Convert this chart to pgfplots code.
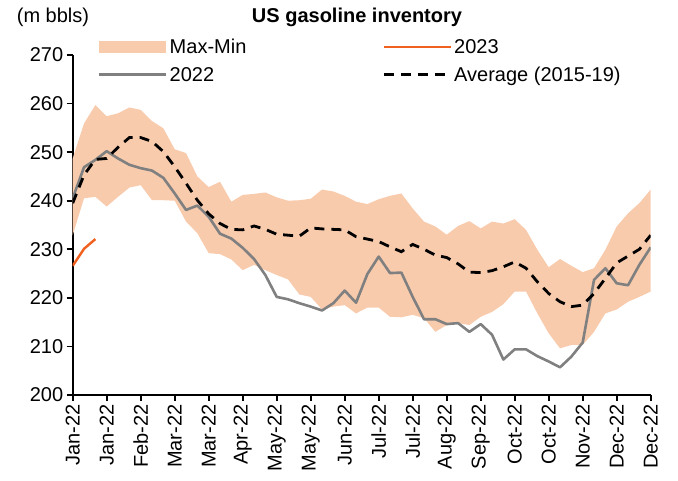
\documentclass[border=0pt]{standalone}
\usepackage{fontspec}
\setmainfont{Liberation Sans}
\usepackage{pgfplots}
\usepackage{pgfplotstable}
\pgfplotsset{compat=1.18}
\usepgfplotslibrary{fillbetween}
\definecolor{BandFill}{RGB}{248,203,173}
\definecolor{Orange23}{RGB}{240,96,30}
\definecolor{Gray22}{RGB}{128,128,128}

% weekly data, week 0 = first week of Jan
\pgfplotstableread{
w  max    min    avg    y22
0  248.7  232.9  239.5  240.5
1  255.9  240.5  245.3  246.9
2  259.7  240.8  248.5  248.4
3  257.4  238.8  248.7  250.2
4  258.0  240.8  251.0  248.7
5  259.2  242.7  253.0  247.4
6  258.7  243.2  253.0  246.7
7  256.4  240.1  252.2  246.2
8  254.9  240.1  250.1  244.7
9  250.6  240.0  247.0  241.5
10 249.8  235.7  243.6  238.1
11 245.0  233.3  240.1  239.0
12 242.8  229.2  237.3  236.7
13 243.9  229.0  235.3  233.2
14 239.8  227.9  234.1  232.2
15 241.2  225.7  234.0  230.3
16 241.4  226.8  234.8  228.0
17 241.7  225.7  234.1  224.7
18 240.7  224.7  233.1  220.2
19 240.0  223.8  232.9  219.7
20 240.1  220.7  232.7  218.9
21 240.4  220.2  234.4  218.2
22 242.3  217.6  234.2  217.4
23 241.9  218.2  234.1  218.9
24 241.0  218.5  234.0  221.5
25 239.8  216.8  232.6  219.0
26 239.3  218.0  232.1  224.9
27 240.3  218.0  231.6  228.5
28 241.0  216.1  230.5  225.1
29 241.5  216.0  229.5  225.2
30 238.4  216.5  231.0  220.2
31 235.7  215.8  230.0  215.6
32 234.7  213.0  228.8  215.6
33 233.0  214.4  228.3  214.6
34 234.8  214.8  227.0  214.8
35 235.8  214.4  225.3  213.0
36 234.3  216.1  225.2  214.6
37 235.7  217.1  225.6  212.4
38 235.3  218.7  226.4  207.3
39 236.2  221.3  227.4  209.4
40 234.0  221.3  226.1  209.4
41 229.9  216.8  223.3  208.0
42 226.3  212.7  220.9  206.9
43 228.0  209.6  219.2  205.7
44 226.6  210.3  218.2  207.9
45 225.3  210.3  218.5  210.8
46 226.1  213.0  220.9  223.7
47 229.9  216.8  224.0  226.1
48 234.7  217.6  227.2  223.0
49 237.4  219.2  228.6  222.6
50 239.5  220.2  230.0  226.8
51 242.3  221.3  232.9  230.4
}\data

\begin{document}
\begin{tikzpicture}[font=\fontsize{20bp}{24bp}\selectfont]
\begin{axis}[
  scale only axis,
  width=578bp, height=340bp,
  xmin=0, xmax=51, ymin=200, ymax=270,
  axis lines*=left,
  axis line style={line width=1.6bp, black},
  tick align=outside,
  major tick length=6bp,
  tick style={line width=1.6bp, black},
  xtick={0,3,...,51},
  xticklabels={Jan-22,Jan-22,Feb-22,Mar-22,Mar-22,Apr-22,May-22,May-22,Jun-22,Jul-22,Jul-22,Aug-22,Sep-22,Oct-22,Oct-22,Nov-22,Dec-22,Dec-22},
  x tick label style={rotate=90, anchor=east},
  ytick={200,210,...,270},
  tick label style={font=\fontsize{20bp}{24bp}\selectfont},
  /pgf/number format/assume math mode=true,
  legend columns=2,
  legend cell align=left,
  legend style={draw=none, fill=none, at={(0.0385,1.06)}, anchor=north west,
    font=\fontsize{20bp}{24bp}\selectfont, row sep=8bp, nodes={inner sep=2bp},
    /tikz/every even column/.append style={column sep=134bp}},
  legend image code/.code={\draw[#1] (0bp,0bp) -- (67bp,0bp);},
]
  % band between the 2015-19 max and min
  \addplot[draw=none, name path=upper, forget plot] table[x=w, y=max] {\data};
  \addplot[draw=none, name path=lower, forget plot] table[x=w, y=min] {\data};
  \addplot[fill=BandFill, draw=none,
    legend image code/.code={\fill[BandFill] (0bp,-6bp) rectangle (67bp,6bp);}]
    fill between[of=upper and lower];
  \addlegendentry{Max-Min}

  \addplot[color=Orange23, line width=2.4bp, line join=round] coordinates {
    (0,226.6) (1,230.1) (2,232.1)
  };
  \addlegendentry{2023}

  \addplot[color=Gray22, line width=2.6bp, line join=round] table[x=w, y=y22] {\data};
  \addlegendentry{2022}

  \addplot[color=black, line width=2.8bp, dash pattern=on 10bp off 7bp] table[x=w, y=avg] {\data};
  \addlegendentry{Average (2015-19)}
\end{axis}
\node[font=\bfseries\fontsize{20bp}{24bp}\selectfont] at (284.3bp,378bp) {US gasoline inventory};
\node at (-19.7bp,378bp) {(m bbls)};
\pgfresetboundingbox
\path (-72.7bp,-86bp) rectangle (605.3bp,395bp);
\end{tikzpicture}
\end{document}
